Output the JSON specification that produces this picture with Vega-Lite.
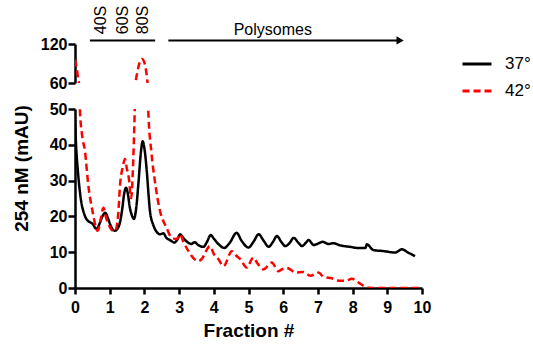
{
  "$schema": "https://vega.github.io/schema/vega-lite/v6.json",
  "padding": {"left": 11, "top": 5, "right": 3, "bottom": 5},
  "spacing": 10,
  "config": {
    "view": {"stroke": null},
    "font": "Liberation Sans",
    "axis": {
      "domainColor": "black", "domainWidth": 2.5, "tickColor": "black", "tickWidth": 2.5,
      "labelFont": "Liberation Sans", "labelFontWeight": "bold", "labelFontSize": 16, "labelColor": "black",
      "titleFont": "Liberation Sans", "titleFontWeight": "bold", "titleFontSize": 19, "titleColor": "black",
      "grid": false, "labelFlush": false
    }
  },
  "datasets": {
    "trace": [
      {"f": 0.0, "v": 47, "series": "37°"},
      {"f": 0.03, "v": 40, "series": "37°"},
      {"f": 0.08, "v": 33, "series": "37°"},
      {"f": 0.14, "v": 27, "series": "37°"},
      {"f": 0.2, "v": 23, "series": "37°"},
      {"f": 0.24, "v": 21.5, "series": "37°"},
      {"f": 0.3, "v": 19.8, "series": "37°"},
      {"f": 0.38, "v": 18.7, "series": "37°"},
      {"f": 0.45, "v": 18.3, "series": "37°"},
      {"f": 0.52, "v": 17.8, "series": "37°"},
      {"f": 0.58, "v": 16.8, "series": "37°"},
      {"f": 0.63, "v": 16.5, "series": "37°"},
      {"f": 0.7, "v": 17.8, "series": "37°"},
      {"f": 0.78, "v": 19.8, "series": "37°"},
      {"f": 0.87, "v": 21, "series": "37°"},
      {"f": 0.95, "v": 19.5, "series": "37°"},
      {"f": 1.02, "v": 17.6, "series": "37°"},
      {"f": 1.1, "v": 16.2, "series": "37°"},
      {"f": 1.15, "v": 16, "series": "37°"},
      {"f": 1.22, "v": 16.5, "series": "37°"},
      {"f": 1.3, "v": 18.5, "series": "37°"},
      {"f": 1.36, "v": 22, "series": "37°"},
      {"f": 1.42, "v": 26.5, "series": "37°"},
      {"f": 1.47, "v": 28, "series": "37°"},
      {"f": 1.52, "v": 26.5, "series": "37°"},
      {"f": 1.58, "v": 22.5, "series": "37°"},
      {"f": 1.64, "v": 20.3, "series": "37°"},
      {"f": 1.7, "v": 19.3, "series": "37°"},
      {"f": 1.76, "v": 22, "series": "37°"},
      {"f": 1.83, "v": 29.5, "series": "37°"},
      {"f": 1.9, "v": 38, "series": "37°"},
      {"f": 1.95, "v": 41, "series": "37°"},
      {"f": 2.0, "v": 39, "series": "37°"},
      {"f": 2.07, "v": 32.5, "series": "37°"},
      {"f": 2.12, "v": 26, "series": "37°"},
      {"f": 2.16, "v": 21.5, "series": "37°"},
      {"f": 2.26, "v": 17.5, "series": "37°"},
      {"f": 2.36, "v": 15.6, "series": "37°"},
      {"f": 2.45, "v": 15, "series": "37°"},
      {"f": 2.55, "v": 15.3, "series": "37°"},
      {"f": 2.62, "v": 14.2, "series": "37°"},
      {"f": 2.75, "v": 13.3, "series": "37°"},
      {"f": 2.86, "v": 12.7, "series": "37°"},
      {"f": 2.95, "v": 13.5, "series": "37°"},
      {"f": 3.03, "v": 15, "series": "37°"},
      {"f": 3.12, "v": 14, "series": "37°"},
      {"f": 3.22, "v": 13, "series": "37°"},
      {"f": 3.35, "v": 12.3, "series": "37°"},
      {"f": 3.45, "v": 12.8, "series": "37°"},
      {"f": 3.55, "v": 12, "series": "37°"},
      {"f": 3.7, "v": 11.5, "series": "37°"},
      {"f": 3.8, "v": 12.8, "series": "37°"},
      {"f": 3.91, "v": 14.8, "series": "37°"},
      {"f": 4.0, "v": 13.8, "series": "37°"},
      {"f": 4.13, "v": 12.3, "series": "37°"},
      {"f": 4.3, "v": 11.2, "series": "37°"},
      {"f": 4.45, "v": 12.5, "series": "37°"},
      {"f": 4.66, "v": 15.4, "series": "37°"},
      {"f": 4.8, "v": 13.2, "series": "37°"},
      {"f": 5.0, "v": 11.3, "series": "37°"},
      {"f": 5.15, "v": 13, "series": "37°"},
      {"f": 5.29, "v": 15, "series": "37°"},
      {"f": 5.45, "v": 13, "series": "37°"},
      {"f": 5.58, "v": 11.5, "series": "37°"},
      {"f": 5.7, "v": 12.8, "series": "37°"},
      {"f": 5.82, "v": 14.5, "series": "37°"},
      {"f": 5.95, "v": 12.8, "series": "37°"},
      {"f": 6.06, "v": 11.7, "series": "37°"},
      {"f": 6.18, "v": 12.5, "series": "37°"},
      {"f": 6.3, "v": 14, "series": "37°"},
      {"f": 6.45, "v": 12.5, "series": "37°"},
      {"f": 6.54, "v": 11.7, "series": "37°"},
      {"f": 6.65, "v": 12.6, "series": "37°"},
      {"f": 6.73, "v": 13.4, "series": "37°"},
      {"f": 6.88, "v": 12, "series": "37°"},
      {"f": 6.98, "v": 12.3, "series": "37°"},
      {"f": 7.14, "v": 12.9, "series": "37°"},
      {"f": 7.3, "v": 12.3, "series": "37°"},
      {"f": 7.45, "v": 12.5, "series": "37°"},
      {"f": 7.64, "v": 11.9, "series": "37°"},
      {"f": 7.93, "v": 11.5, "series": "37°"},
      {"f": 8.13, "v": 11.2, "series": "37°"},
      {"f": 8.37, "v": 11.2, "series": "37°"},
      {"f": 8.41, "v": 12.2, "series": "37°"},
      {"f": 8.6, "v": 10.6, "series": "37°"},
      {"f": 8.9, "v": 10.3, "series": "37°"},
      {"f": 9.23, "v": 9.9, "series": "37°"},
      {"f": 9.42, "v": 10.8, "series": "37°"},
      {"f": 9.6, "v": 9.9, "series": "37°"},
      {"f": 9.8, "v": 8.9, "series": "37°"},
      {"f": 0.0, "v": 96, "series": "42°"},
      {"f": 0.04, "v": 85, "series": "42°"},
      {"f": 0.09, "v": 68, "series": "42°"},
      {"f": 0.12, "v": 58, "series": "42°"},
      {"f": 0.14, "v": 50, "series": "42°"},
      {"f": 0.2, "v": 43, "series": "42°"},
      {"f": 0.29, "v": 38, "series": "42°"},
      {"f": 0.38, "v": 29, "series": "42°"},
      {"f": 0.52, "v": 20.7, "series": "42°"},
      {"f": 0.6, "v": 17, "series": "42°"},
      {"f": 0.64, "v": 16, "series": "42°"},
      {"f": 0.68, "v": 16.5, "series": "42°"},
      {"f": 0.73, "v": 18.7, "series": "42°"},
      {"f": 0.82, "v": 22.4, "series": "42°"},
      {"f": 0.9, "v": 19.5, "series": "42°"},
      {"f": 0.96, "v": 17.9, "series": "42°"},
      {"f": 1.1, "v": 16, "series": "42°"},
      {"f": 1.16, "v": 16, "series": "42°"},
      {"f": 1.24, "v": 20, "series": "42°"},
      {"f": 1.3, "v": 29, "series": "42°"},
      {"f": 1.38, "v": 34, "series": "42°"},
      {"f": 1.44, "v": 36, "series": "42°"},
      {"f": 1.5, "v": 33, "series": "42°"},
      {"f": 1.55, "v": 30.8, "series": "42°"},
      {"f": 1.62, "v": 25.1, "series": "42°"},
      {"f": 1.67, "v": 33.5, "series": "42°"},
      {"f": 1.72, "v": 49, "series": "42°"},
      {"f": 1.76, "v": 66, "series": "42°"},
      {"f": 1.81, "v": 80, "series": "42°"},
      {"f": 1.87, "v": 93, "series": "42°"},
      {"f": 1.93, "v": 97, "series": "42°"},
      {"f": 1.99, "v": 93, "series": "42°"},
      {"f": 2.04, "v": 82, "series": "42°"},
      {"f": 2.08, "v": 66, "series": "42°"},
      {"f": 2.11, "v": 50, "series": "42°"},
      {"f": 2.2, "v": 38, "series": "42°"},
      {"f": 2.3, "v": 30, "series": "42°"},
      {"f": 2.45, "v": 21.5, "series": "42°"},
      {"f": 2.64, "v": 16.8, "series": "42°"},
      {"f": 2.79, "v": 14, "series": "42°"},
      {"f": 2.93, "v": 13.7, "series": "42°"},
      {"f": 3.03, "v": 15, "series": "42°"},
      {"f": 3.12, "v": 13, "series": "42°"},
      {"f": 3.27, "v": 10.3, "series": "42°"},
      {"f": 3.45, "v": 8, "series": "42°"},
      {"f": 3.56, "v": 7.5, "series": "42°"},
      {"f": 3.65, "v": 8.1, "series": "42°"},
      {"f": 3.89, "v": 11.7, "series": "42°"},
      {"f": 4.0, "v": 9.5, "series": "42°"},
      {"f": 4.13, "v": 8.1, "series": "42°"},
      {"f": 4.28, "v": 6.1, "series": "42°"},
      {"f": 4.52, "v": 10.3, "series": "42°"},
      {"f": 4.65, "v": 9, "series": "42°"},
      {"f": 4.76, "v": 8.1, "series": "42°"},
      {"f": 4.95, "v": 5.7, "series": "42°"},
      {"f": 5.14, "v": 8.5, "series": "42°"},
      {"f": 5.25, "v": 7, "series": "42°"},
      {"f": 5.43, "v": 5.2, "series": "42°"},
      {"f": 5.67, "v": 7.1, "series": "42°"},
      {"f": 5.86, "v": 4.7, "series": "42°"},
      {"f": 5.96, "v": 5.2, "series": "42°"},
      {"f": 6.1, "v": 5.6, "series": "42°"},
      {"f": 6.2, "v": 5.2, "series": "42°"},
      {"f": 6.35, "v": 4.3, "series": "42°"},
      {"f": 6.58, "v": 4.5, "series": "42°"},
      {"f": 6.78, "v": 3.4, "series": "42°"},
      {"f": 7.02, "v": 4.3, "series": "42°"},
      {"f": 7.16, "v": 3.1, "series": "42°"},
      {"f": 7.4, "v": 2.7, "series": "42°"},
      {"f": 7.64, "v": 2.0, "series": "42°"},
      {"f": 7.79, "v": 2.0, "series": "42°"},
      {"f": 7.98, "v": 2.6, "series": "42°"},
      {"f": 8.17, "v": 1.5, "series": "42°"},
      {"f": 8.32, "v": 0.6, "series": "42°"},
      {"f": 8.46, "v": 0.1, "series": "42°"},
      {"f": 8.6, "v": 0, "series": "42°"},
      {"f": 10.0, "v": 0, "series": "42°"}
    ]
  },
  "vconcat": [
    {
      "width": 347,
      "height": 39,
      "layer": [
        {
          "data": {"name": "trace"},
          "mark": {"type": "line", "clip": true, "strokeWidth": 2.5, "interpolate": "monotone"},
          "encoding": {
            "x": {"field": "f", "type": "quantitative", "scale": {"domain": [0, 10], "nice": false}, "axis": null},
            "y": {"field": "v", "type": "quantitative", "scale": {"domain": [60, 120], "nice": false},
                  "axis": {"values": [60, 120], "title": null, "tickSize": 7, "labelPadding": 1}},
            "color": {"field": "series", "type": "nominal",
                      "scale": {"domain": ["37°", "42°"], "range": ["#000000", "#ff0000"]},
                      "legend": {"title": null, "orient": "none", "legendX": 386, "legendY": 4, "padding": 0,
                                 "labelFontSize": 17, "labelFont": "Liberation Sans", "labelColor": "black",
                                 "symbolSize": 841, "symbolStrokeWidth": 3, "labelOffset": 12, "rowPadding": 3}},
            "strokeDash": {"field": "series", "type": "nominal",
                           "scale": {"domain": ["37°", "42°"], "range": [[1, 0], [7, 4]]},
                           "legend": {"title": null, "orient": "none", "legendX": 386, "legendY": 4, "padding": 0,
                                      "labelFontSize": 17, "labelFont": "Liberation Sans", "labelColor": "black",
                                      "symbolSize": 841, "symbolStrokeWidth": 3, "labelOffset": 12, "rowPadding": 3}}
          }
        },
        {
          "data": {"values": [{"x1": 0.43, "x2": 2.31, "y": 125.5}, {"x1": 2.69, "x2": 9.3, "y": 125.5}]},
          "mark": {"type": "rule", "strokeWidth": 2, "color": "black"},
          "encoding": {
            "x": {"field": "x1", "type": "quantitative"},
            "x2": {"field": "x2"},
            "y": {"field": "y", "type": "quantitative"}
          }
        },
        {
          "data": {"values": [{"x": 9.37, "y": 125.5}]},
          "mark": {"type": "point", "shape": "triangle-right", "filled": true, "color": "black", "opacity": 1, "size": 70},
          "encoding": {
            "x": {"field": "x", "type": "quantitative"},
            "y": {"field": "y", "type": "quantitative"}
          }
        },
        {
          "data": {"values": [{"label": "40S", "x": 0.74, "y": 135}, {"label": "60S", "x": 1.37, "y": 135}, {"label": "80S", "x": 1.97, "y": 135}]},
          "mark": {"type": "text", "angle": 270, "align": "left", "baseline": "middle", "fontSize": 16, "font": "Liberation Sans", "color": "black"},
          "encoding": {
            "x": {"field": "x", "type": "quantitative"},
            "y": {"field": "y", "type": "quantitative"},
            "text": {"field": "label"}
          }
        },
        {
          "data": {"values": [{"label": "Polysomes", "x": 5.7, "y": 133.8}]},
          "mark": {"type": "text", "align": "center", "baseline": "alphabetic", "fontSize": 16, "font": "Liberation Sans", "color": "black"},
          "encoding": {
            "x": {"field": "x", "type": "quantitative"},
            "y": {"field": "y", "type": "quantitative"},
            "text": {"field": "label"}
          }
        }
      ]
    },
    {
      "width": 347,
      "height": 179,
      "data": {"name": "trace"},
      "mark": {"type": "line", "clip": true, "strokeWidth": 2.5, "interpolate": "monotone"},
      "encoding": {
        "x": {"field": "f", "type": "quantitative", "scale": {"domain": [0, 10], "nice": false},
              "axis": {"values": [0, 1, 2, 3, 4, 5, 6, 7, 8, 9, 10], "title": "Fraction #", "tickSize": 6, "labelPadding": 5, "titlePadding": 6}},
        "y": {"field": "v", "type": "quantitative", "scale": {"domain": [0, 50], "nice": false},
              "axis": {"values": [0, 10, 20, 30, 40, 50], "title": "254 nM (mAU)", "tickSize": 7, "labelPadding": 1, "titleY": 59, "titleX": -44}},
        "color": {"field": "series", "type": "nominal",
                  "scale": {"domain": ["37°", "42°"], "range": ["#000000", "#ff0000"]},
                  "legend": {"title": null, "orient": "none", "legendX": 386, "legendY": 4, "padding": 0,
                             "labelFontSize": 17, "labelFont": "Liberation Sans", "labelColor": "black",
                             "symbolSize": 841, "symbolStrokeWidth": 3, "labelOffset": 12, "rowPadding": 3}},
        "strokeDash": {"field": "series", "type": "nominal",
                       "scale": {"domain": ["37°", "42°"], "range": [[1, 0], [7, 4]]},
                       "legend": {"title": null, "orient": "none", "legendX": 386, "legendY": 4, "padding": 0,
                                  "labelFontSize": 17, "labelFont": "Liberation Sans", "labelColor": "black",
                                  "symbolSize": 841, "symbolStrokeWidth": 3, "labelOffset": 12, "rowPadding": 3}}
      }
    }
  ]
}
